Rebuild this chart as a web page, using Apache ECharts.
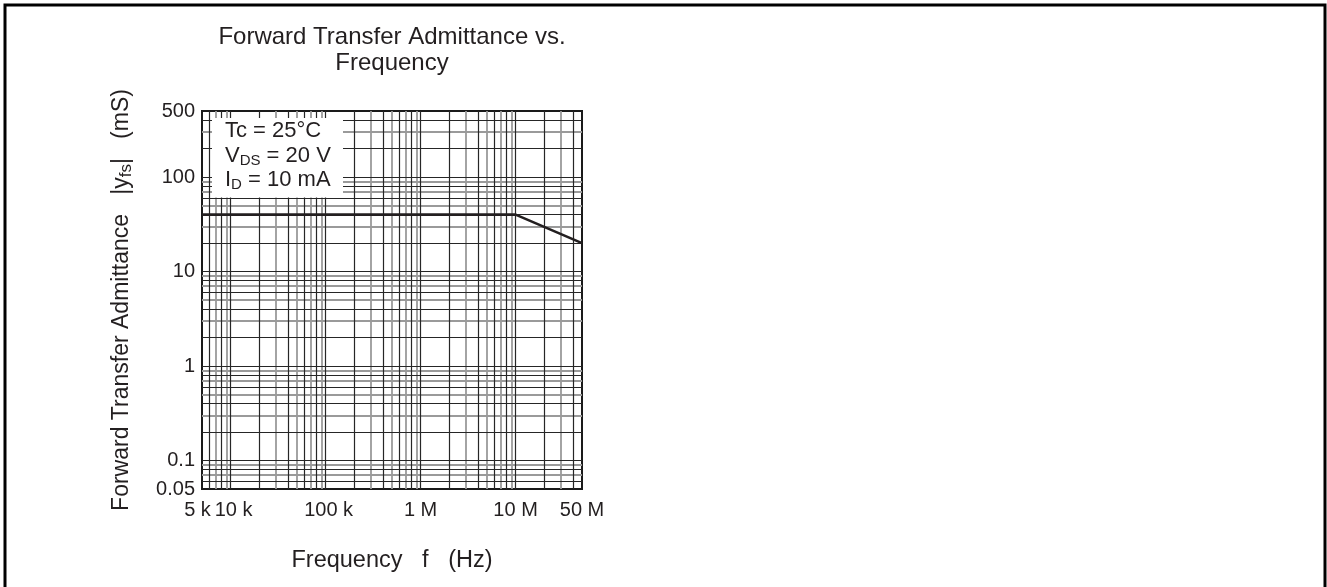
<!DOCTYPE html>
<html>
<head>
<meta charset="utf-8">
<script src="https://cdn.jsdelivr.net/npm/echarts@6/dist/echarts.min.js"></script>
<style>
html,body{margin:0;padding:0;background:#fff;}
#chart{width:1327px;height:587px;}
</style>
</head>
<body>
<div id="chart"></div>
<script>
// ---- data ----
const freq = [5e3, 1e7, 5e7];          // Hz
const yfs = [40, 40, 20];              // mS

const xTickValues = [5e3, 1e4, 1e5, 1e6, 1e7, 5e7];
const xTickLabels = ['5 k', '10 k', '100 k', '1 M', '10 M', '50 M'];
const yTickValues = [0.05, 0.1, 1, 10, 100, 500];
const yTickLabels = ['0.05', '0.1', '1', '10', '100', '500'];

const xMin = 5e3, xMax = 5e7;
const yMin = 0.05, yMax = 500;

// log grid: decades and multipliers
const xDecades = [1e3, 1e4, 1e5, 1e6, 1e7];
const yDecades = [0.01, 0.1, 1, 10, 100];
const multipliers = [1, 2, 3, 4, 5, 6, 7, 8, 9];
const darkMultipliers = [1, 2, 4, 6, 8];

function gridValues(decades, lo, hi, dark) {
  const out = [];
  decades.forEach(d => multipliers.forEach(m => {
    const v = +(d * m).toPrecision(6);
    if (v > lo * 1.0001 && v < hi * 0.9999 && (darkMultipliers.indexOf(m) >= 0) === dark) out.push(v);
  }));
  return out;
}

const curve = freq.map((f, i) => [f, yfs[i]]);

function nearestIndex(arr, v) {
  let best = 0, bd = Infinity;
  arr.forEach((a, i) => {
    const d = Math.abs(Math.log10(a) - Math.log10(v));
    if (d < bd) { bd = d; best = i; }
  });
  return best;
}

const GREY = '#9a9a9a', DARK = '#262626', TXT = '#231f20';
const FONT = 'Liberation Sans, Arial, sans-serif';

function gridMarkLine(dark) {
  const xs = gridValues(xDecades, xMin, xMax, dark).map(v => ({ xAxis: v }));
  const ys = gridValues(yDecades, yMin, yMax, dark).map(v => ({ yAxis: v }));
  return {
    silent: true,
    symbol: ['none', 'none'],
    label: { show: false },
    emphasis: { disabled: true },
    animation: false,
    lineStyle: { type: 'solid', color: dark ? DARK : GREY, width: dark ? 1.2 : 1.8 },
    data: xs.concat(ys)
  };
}

const chart = echarts.init(document.getElementById('chart'), null, { renderer: 'canvas' });

chart.setOption({
  animation: false,
  backgroundColor: '#fff',
  textStyle: { fontFamily: FONT, color: TXT },
  title: {
    text: 'Forward Transfer Admittance vs.\nFrequency',
    left: 392,
    top: 24,
    padding: 0,
    textAlign: 'center',
    textStyle: { fontSize: 24, fontWeight: 'normal', color: TXT, lineHeight: 26, fontFamily: FONT }
  },
  grid: {
    left: 202, right: 745, top: 111, bottom: 98,
    show: true, borderColor: '#1a1a1a', borderWidth: 2, backgroundColor: '#fff',
    containLabel: false
  },
  xAxis: {
    type: 'log', logBase: 10, min: xMin, max: xMax,
    name: 'Frequency   f   (Hz)',
    nameLocation: 'middle', nameGap: 60,
    nameTextStyle: { fontSize: 23.5, color: TXT },
    axisLine: { show: true, lineStyle: { color: '#1a1a1a', width: 2 } },
    axisTick: { show: false },
    splitLine: { show: false },
    axisLabel: {
      show: true, showMinLabel: true, showMaxLabel: true,
      margin: 11, fontSize: 20, color: TXT,
      formatter: v => {
        const i = nearestIndex(xTickValues, v);
        if (i === 0) return '{lo|' + xTickLabels[i] + '}';
        if (i === 1 || i === 2) return '{hi|' + xTickLabels[i] + '}';
        return xTickLabels[i];
      },
      rich: {
        lo: { fontSize: 20, color: TXT, padding: [0, 9, 0, 0] },
        hi: { fontSize: 20, color: TXT, padding: [0, 0, 0, 6] }
      }
    }
  },
  yAxis: {
    type: 'log', logBase: 10, min: yMin, max: yMax,
    name: '{n|Forward Transfer Admittance   |y}{s|fs}{n||   (mS)}',
    nameLocation: 'middle', nameGap: 67, nameRotate: 90,
    nameTextStyle: {
      fontSize: 23, color: TXT,
      rich: {
        n: { fontSize: 23, color: TXT, lineHeight: 27 },
        s: { fontSize: 17, color: TXT, lineHeight: 19, verticalAlign: 'bottom' }
      }
    },
    axisLine: { show: true, lineStyle: { color: '#1a1a1a', width: 2 } },
    axisTick: { show: false },
    splitLine: { show: false },
    axisLabel: {
      show: true, showMinLabel: true, showMaxLabel: true,
      margin: 7, fontSize: 20, color: TXT,
      formatter: v => yTickLabels[nearestIndex(yTickValues, v)]
    }
  },
  series: [
    {
      type: 'line', data: curve, z: 1, silent: true,
      showSymbol: false, lineStyle: { opacity: 0, width: 0 },
      markLine: gridMarkLine(false)
    },
    {
      type: 'line', data: curve, z: 2, silent: true,
      showSymbol: false, lineStyle: { opacity: 0, width: 0 },
      markLine: gridMarkLine(true)
    },
    {
      type: 'line', data: curve, z: 5,
      showSymbol: false, symbol: 'none',
      lineStyle: { color: TXT, width: 2.6 }
    }
  ],
  graphic: [
    {
      type: 'text', x: 212, y: 118, z: 20, silent: true,
      style: {
        text: '{n|Tc = 25°C}\n{n|V}{s|DS}{n| = 20 V}\n{n|I}{s|D}{n| = 10 mA}',
        backgroundColor: '#fff',
        padding: [1, 0, 5, 13],
        width: 118,
        rich: {
          n: { fontSize: 22, lineHeight: 24.5, fill: TXT, fontFamily: FONT },
          s: { fontSize: 15, lineHeight: 15, fill: TXT, verticalAlign: 'bottom', fontFamily: FONT }
        }
      }
    },
    {
      type: 'rect', z: 30, silent: true,
      shape: { x: 5, y: 5, width: 1320, height: 700 },
      style: { fill: 'transparent', stroke: '#000', lineWidth: 3 }
    }
  ]
});
</script>
</body>
</html>
